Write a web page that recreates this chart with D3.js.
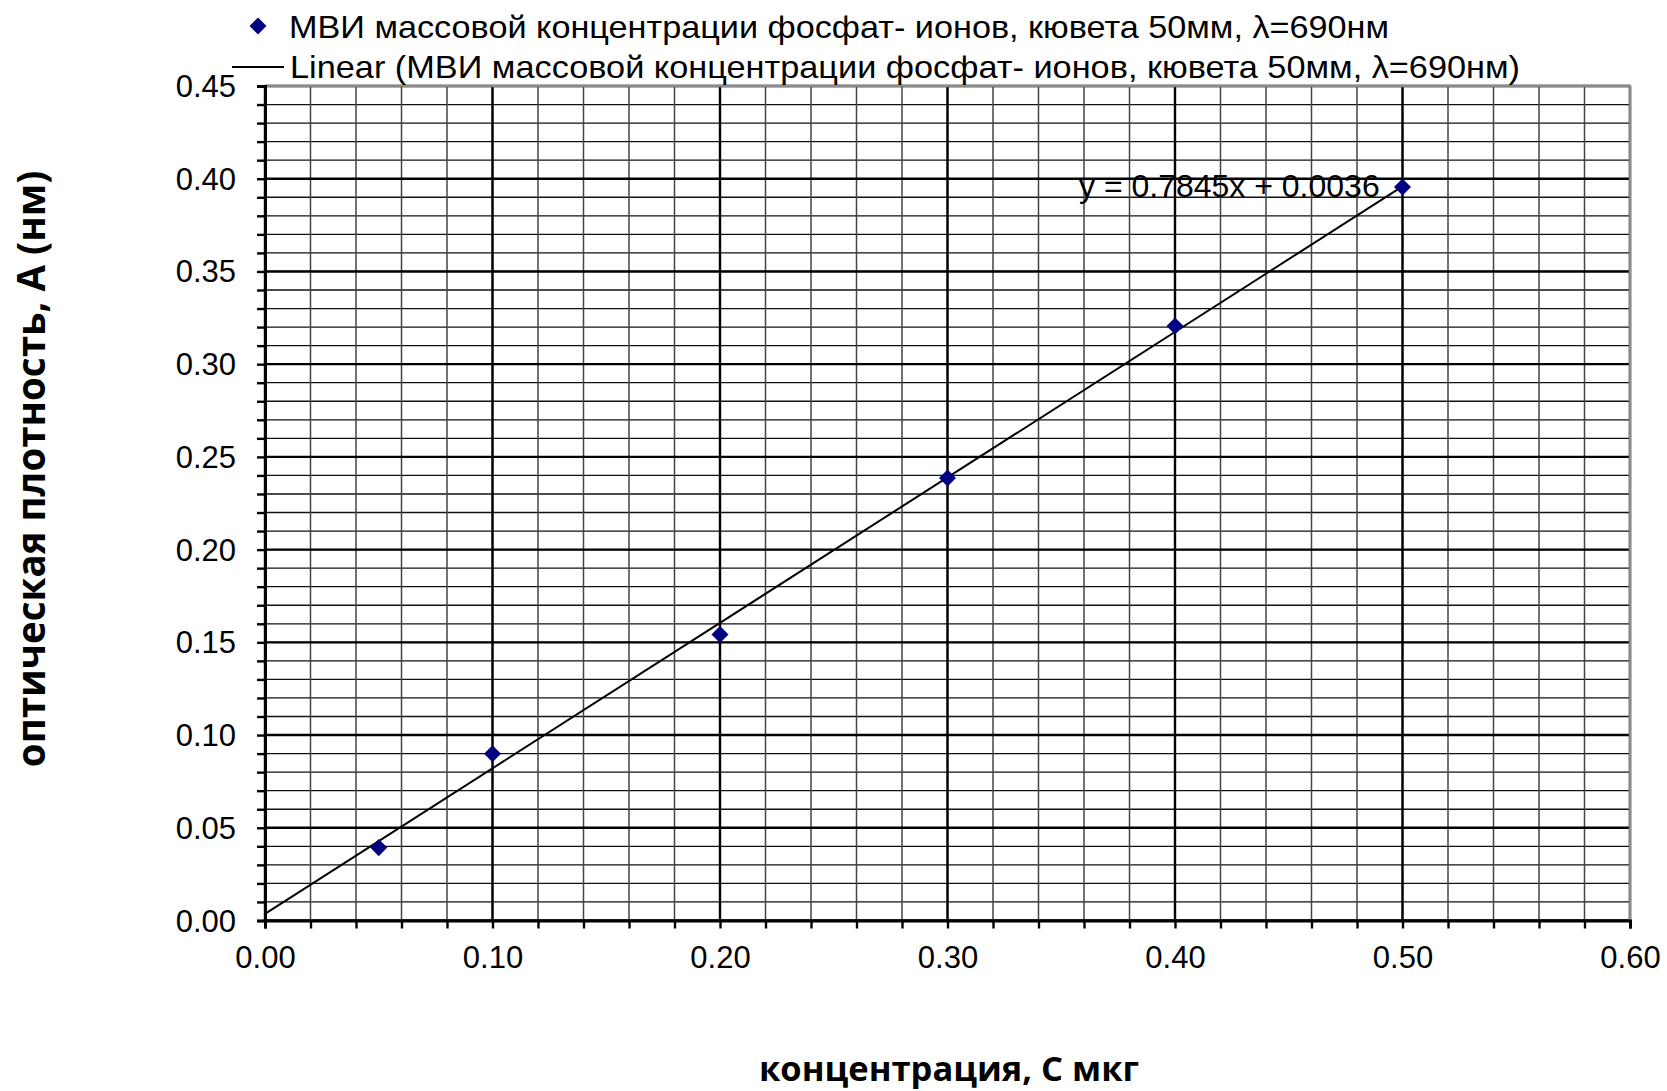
<!DOCTYPE html>
<html><head><meta charset="utf-8">
<script src="https://cdnjs.cloudflare.com/ajax/libs/d3/7.8.5/d3.min.js"></script>
<style>
html,body{margin:0;padding:0;background:#fff;}
svg{display:block;}
</style></head>
<body>
<svg id="chart" width="1667" height="1091"></svg>
<script>
// ---- data ----
const concentrations = [0.05, 0.10, 0.20, 0.30, 0.40, 0.50];
const absorbance = [0.0393, 0.0899, 0.1542, 0.2386, 0.3206, 0.3955];
const trendSlope = 0.7845;
const trendIntercept = 0.0036;
const trendRange = [0, 0.5];
const xTickValues = [0, 0.1, 0.2, 0.3, 0.4, 0.5, 0.6];
const yTickValues = [0, 0.05, 0.1, 0.15, 0.2, 0.25, 0.3, 0.35, 0.4, 0.45];
const seriesName = "МВИ массовой концентрации фосфат- ионов, кювета 50мм, λ=690нм";
const trendName = "Linear (МВИ массовой концентрации фосфат- ионов, кювета 50мм, λ=690нм)";
const equationText = "y = 0.7845x + 0.0036";
const xTitle = "концентрация, С мкг";
const yTitle = "оптическая плотность, А (нм)";

// ---- layout ----
const L = 265, R = 1630, T = 86, B = 920.5;
const svg = d3.select("#chart");
const x = d3.scaleLinear().domain([0, 0.6]).range([L, R]);
const y = d3.scaleLinear().domain([0, 0.45]).range([B, T]);
const fmt = d3.format(".2f");
const tickFont = "'Liberation Sans', Arial, sans-serif";

const xMinor = d3.range(0, 31).map(i => i * 0.02);
const yMinor = d3.range(0, 46).map(i => i * 0.01);

// minor grid
const g = svg.append("g");
g.selectAll("line.hmin").data(yMinor).join("line")
  .attr("x1", L).attr("x2", R).attr("y1", d => y(d)).attr("y2", d => y(d))
  .attr("stroke", "#111").attr("stroke-width", 1.3);
g.selectAll("line.vmin").data(xMinor).join("line")
  .attr("y1", T).attr("y2", B).attr("x1", d => x(d)).attr("x2", d => x(d))
  .attr("stroke", "#444").attr("stroke-width", 1.5);
// major grid
g.selectAll("line.hmaj").data(yTickValues).join("line")
  .attr("x1", L).attr("x2", R).attr("y1", d => y(d)).attr("y2", d => y(d))
  .attr("stroke", "#000").attr("stroke-width", 2.4);
g.selectAll("line.vmaj").data(xTickValues).join("line")
  .attr("y1", T).attr("y2", B).attr("x1", d => x(d)).attr("x2", d => x(d))
  .attr("stroke", "#000").attr("stroke-width", 2.4);
// grey border top & right
svg.append("line").attr("x1", L).attr("x2", R + 1).attr("y1", T).attr("y2", T)
  .attr("stroke", "#8a8a8a").attr("stroke-width", 2.5);
svg.append("line").attr("x1", R).attr("x2", R).attr("y1", T).attr("y2", B)
  .attr("stroke", "#8a8a8a").attr("stroke-width", 2.5);

// minor ticks via axes
const yMinorAxis = d3.axisLeft(y).tickValues(yMinor).tickSize(8).tickFormat("");
const xMinorAxis = d3.axisBottom(x).tickValues(xMinor).tickSize(8).tickFormat("");
const ym = svg.append("g").attr("transform", `translate(${L},0)`).call(yMinorAxis);
const xm = svg.append("g").attr("transform", `translate(0,${B})`).call(xMinorAxis);
[ym, xm].forEach(a => {
  a.selectAll(".tick line").attr("stroke", "#000").attr("stroke-width", 2.4);
  a.select(".domain").attr("stroke", "#000").attr("stroke-width", 3);
});

// labelled axes
const yAxis = d3.axisLeft(y).tickValues(yTickValues).tickSize(0).tickPadding(29).tickFormat(fmt);
const xAxis = d3.axisBottom(x).tickValues(xTickValues).tickSize(0).tickPadding(0).tickFormat(fmt);
const ya = svg.append("g").attr("transform", `translate(${L},0)`).call(yAxis);
const xa = svg.append("g").attr("transform", `translate(0,${B})`).call(xAxis);
[ya, xa].forEach(a => {
  a.select(".domain").remove();
  a.selectAll("text").attr("font-family", tickFont).attr("font-size", 31).attr("fill", "#000");
});
ya.selectAll("text").attr("dy", null).attr("dominant-baseline", "auto").attr("y", 10.5);
xa.selectAll("text").attr("dy", null).attr("y", 47.5);

// trend line
const trendPts = trendRange.map(v => [v, trendSlope * v + trendIntercept]);
svg.append("path")
  .attr("d", d3.line().x(d => x(d[0])).y(d => y(d[1]))(trendPts))
  .attr("stroke", "#000").attr("stroke-width", 2).attr("fill", "none");

// points
const diamond = d3.symbol().type(d3.symbolDiamond2).size(185);
svg.selectAll("path.pt").data(concentrations).join("path")
  .attr("class", "pt")
  .attr("transform", (d, i) => `translate(${x(d)},${y(absorbance[i])})`)
  .attr("d", diamond)
  .attr("fill", "#000080");

// equation
svg.append("text").attr("x", 1079).attr("y", 197)
  .attr("font-family", tickFont).attr("font-size", 32).attr("fill", "#000")
  .text(equationText);

// legend
svg.append("path").attr("transform", "translate(258,26)").attr("d", diamond).attr("fill", "#000080");
svg.append("text").attr("x", 289).attr("y", 37.5)
  .attr("font-family", tickFont).attr("font-size", 32).attr("fill", "#000")
  .attr("textLength", 1100).attr("lengthAdjust", "spacingAndGlyphs").text(seriesName);
svg.append("line").attr("x1", 232).attr("x2", 284).attr("y1", 67).attr("y2", 67)
  .attr("stroke", "#000").attr("stroke-width", 2);
svg.append("text").attr("x", 290).attr("y", 77.5)
  .attr("font-family", tickFont).attr("font-size", 32).attr("fill", "#000")
  .attr("textLength", 1230).attr("lengthAdjust", "spacingAndGlyphs").text(trendName);

// axis titles
const titleFont = "'Open Sans', 'DejaVu Sans', sans-serif";
svg.append("text").attr("x", 949).attr("y", 1081)
  .attr("text-anchor", "middle").attr("font-family", titleFont).attr("font-weight", "bold")
  .attr("font-size", 34.5).attr("fill", "#000").text(xTitle);
svg.append("text").attr("transform", "translate(45,469) rotate(-90)")
  .attr("text-anchor", "middle").attr("font-family", titleFont).attr("font-weight", "bold")
  .attr("font-size", 38.5).attr("fill", "#000").text(yTitle);
</script>
</body></html>
